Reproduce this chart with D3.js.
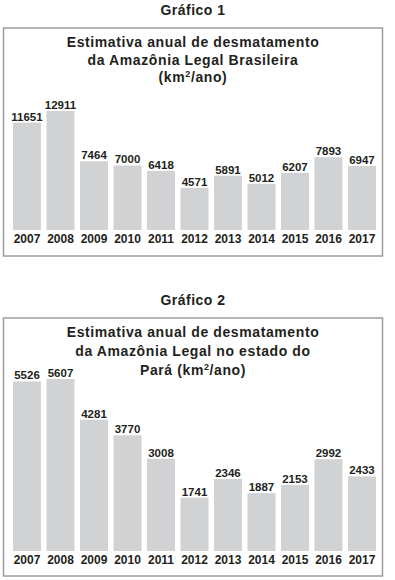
<!DOCTYPE html>
<html>
<head>
<meta charset="utf-8">
<script src="https://cdn.jsdelivr.net/npm/d3@7"></script>
<style>
  body { margin: 0; background: #fff; }
  text { font-family: "Liberation Sans", Arial, sans-serif; font-weight: bold; fill: #231f20; }
</style>
</head>
<body>
<div id="plot"></div>
<script>
// data
var years = ["2007", "2008", "2009", "2010", "2011", "2012", "2013", "2014", "2015", "2016", "2017"];
var amazonia = [11651, 12911, 7464, 7000, 6418, 4571, 5891, 5012, 6207, 7893, 6947];
var para = [5526, 5607, 4281, 3770, 3008, 1741, 2346, 1887, 2153, 2992, 2433];

var heading1 = "Gráfico 1";
var title1 = ["Estimativa anual de desmatamento", "da Amazônia Legal Brasileira", "(km|/ano)"];
var heading2 = "Gráfico 2";
var title2 = ["Estimativa anual de desmatamento", "da Amazônia Legal no estado do", "Pará (km|/ano)"];

var svg = d3.select("#plot").append("svg")
  .attr("width", 395)
  .attr("height", 580);

function drawChart(opts) {
  var g = svg.append("g");

  // heading above the box
  g.append("text")
    .attr("x", 193)
    .attr("y", opts.headingY)
    .attr("text-anchor", "middle")
    .style("font-size", "14px")
    .style("letter-spacing", "0.5px")
    .text(opts.heading);

  // frame
  g.append("rect")
    .attr("x", 3.5)
    .attr("y", opts.boxTop)
    .attr("width", 379)
    .attr("height", opts.boxBottom - opts.boxTop)
    .attr("fill", "none")
    .attr("stroke", "#9d9d9d")
    .attr("stroke-width", 1.5);

  // title lines, "|" marks the superscript 2
  opts.title.forEach(function (line, i) {
    var t = g.append("text")
      .attr("x", 193)
      .attr("y", opts.titleY + i * opts.titleGap)
      .attr("text-anchor", "middle")
      .style("font-size", "14px")
      .style("letter-spacing", "0.6px");
    var parts = line.split("|");
    t.append("tspan").text(parts[0]);
    if (parts.length > 1) {
      t.append("tspan").attr("dy", -5).style("font-size", "9px").text("2");
      t.append("tspan").attr("dy", 5).text(parts[1]);
    }
  });

  var x = d3.scaleBand()
    .domain(years)
    .range([13, 376])
    .paddingInner(0.164)
    .paddingOuter(0);

  var y = d3.scaleLinear()
    .domain([0, d3.max(opts.values)])
    .range([opts.base, opts.maxTop]);

  g.selectAll(".bar")
    .data(opts.values)
    .enter()
    .append("rect")
    .attr("x", (d, i) => x(years[i]))
    .attr("y", d => y(d))
    .attr("width", x.bandwidth())
    .attr("height", d => opts.base - y(d))
    .attr("fill", "#d1d2d4");

  g.selectAll(".val")
    .data(opts.values)
    .enter()
    .append("text")
    .attr("x", (d, i) => x(years[i]) + x.bandwidth() / 2)
    .attr("y", d => y(d) - 2)
    .attr("text-anchor", "middle")
    .style("font-size", "11.5px")
    .text(d => d);

  g.selectAll(".year")
    .data(years)
    .enter()
    .append("text")
    .attr("x", d => x(d) + x.bandwidth() / 2)
    .attr("y", opts.base + 13)
    .attr("text-anchor", "middle")
    .style("font-size", "12px")
    .text(d => d);
}

drawChart({
  heading: heading1, title: title1, values: amazonia,
  headingY: 15, boxTop: 28, boxBottom: 256,
  titleY: 47, titleGap: 17.5, base: 230, maxTop: 111
});

drawChart({
  heading: heading2, title: title2, values: para,
  headingY: 305, boxTop: 318, boxBottom: 576,
  titleY: 337, titleGap: 19, base: 551, maxTop: 379
});
</script>
</body>
</html>
